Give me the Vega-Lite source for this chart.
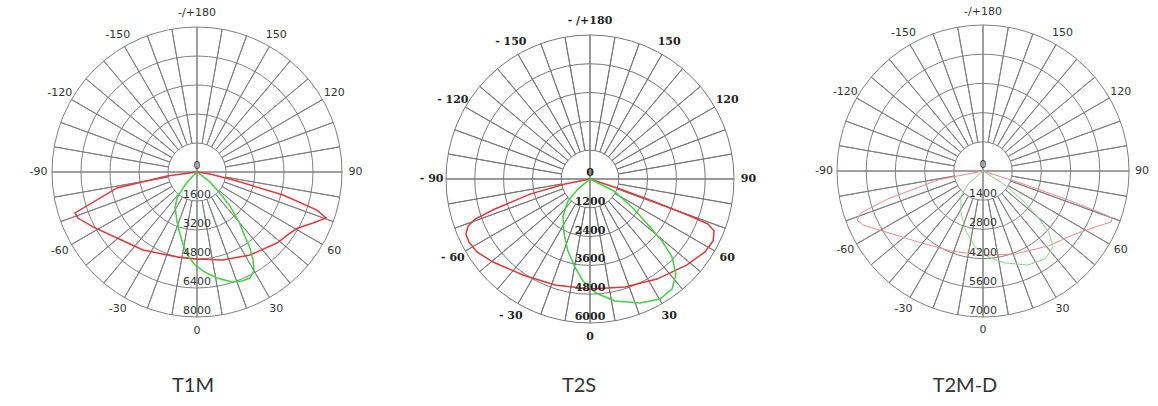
{
  "$schema": "https://vega.github.io/schema/vega-lite/v6.json",
  "padding": 0,
  "spacing": 0,
  "bounds": "flush",
  "background": "white",
  "config": {
    "view": {"stroke": null},
    "axis": {"disable": true},
    "legend": {"disable": true},
    "title": {"orient": "bottom", "offset": 16, "fontSize": 20, "font": "Lato", "fontWeight": "normal", "color": "#333333", "anchor": "middle"}
  },
  "resolve": {"scale": {"x": "independent", "y": "independent", "radius": "independent", "theta": "independent", "color": "independent"}},
  "datasets": {
    "spokes": [{"a":-170},{"a":-160},{"a":-150},{"a":-140},{"a":-130},{"a":-120},{"a":-110},{"a":-100},{"a":-80},{"a":-70},{"a":-60},{"a":-50},{"a":-40},{"a":-30},{"a":-20},{"a":-10},{"a":10},{"a":20},{"a":30},{"a":40},{"a":50},{"a":60},{"a":70},{"a":80},{"a":100},{"a":110},{"a":120},{"a":130},{"a":140},{"a":150},{"a":160},{"a":170}],
    "mainAxes": [{"a":0},{"a":90},{"a":180},{"a":-90}],
    "labelsSans": [{"a":180,"t":"-/+180"},{"a":-150,"t":"-150"},{"a":150,"t":"150"},{"a":-120,"t":"-120"},{"a":120,"t":"120"},{"a":-90,"t":"-90"},{"a":90,"t":"90"},{"a":-60,"t":"-60"},{"a":60,"t":"60"},{"a":-30,"t":"-30"},{"a":30,"t":"30"},{"a":0,"t":"0"}],
    "labelsSerif": [{"a":180,"t":"- /+180"},{"a":-150,"t":"- 150"},{"a":150,"t":"150"},{"a":-120,"t":"- 120"},{"a":120,"t":"120"},{"a":-90,"t":"- 90"},{"a":90,"t":"90"},{"a":-60,"t":"- 60"},{"a":60,"t":"60"},{"a":-30,"t":"- 30"},{"a":30,"t":"30"},{"a":0,"t":"0"}],
    "rings1": [{"r":0},{"r":1600},{"r":3200},{"r":4800},{"r":6400},{"r":8000}],
    "rings2": [{"r":0},{"r":1200},{"r":2400},{"r":3600},{"r":4800},{"r":6000}],
    "rings3": [{"r":0},{"r":1400},{"r":2800},{"r":4200},{"r":5600},{"r":7000}],
    "c1": [
      {"p":"C0-C180","h":0,"v":0},{"p":"C0-C180","h":-1650,"v":-220},{"p":"C0-C180","h":-4410,"v":-880},{"p":"C0-C180","h":-6730,"v":-2260},{"p":"C0-C180","h":-6570,"v":-2540},{"p":"C0-C180","h":-5740,"v":-3030},{"p":"C0-C180","h":-4410,"v":-3640},{"p":"C0-C180","h":-2980,"v":-4300},{"p":"C0-C180","h":-1100,"v":-4690},{"p":"C0-C180","h":0,"v":-4800},{"p":"C0-C180","h":1430,"v":-4860},{"p":"C0-C180","h":2920,"v":-4580},{"p":"C0-C180","h":4410,"v":-3920},{"p":"C0-C180","h":5130,"v":-3370},{"p":"C0-C180","h":5570,"v":-3090},{"p":"C0-C180","h":6400,"v":-2810},{"p":"C0-C180","h":7120,"v":-2540},{"p":"C0-C180","h":6620,"v":-2100},{"p":"C0-C180","h":4750,"v":-1270},{"p":"C0-C180","h":2210,"v":-500},{"p":"C0-C180","h":720,"v":-110},{"p":"C0-C180","h":0,"v":0},
      {"p":"C90-C270","h":0,"v":0},{"p":"C90-C270","h":-440,"v":-440},{"p":"C90-C270","h":-770,"v":-880},{"p":"C90-C270","h":-1100,"v":-1430},{"p":"C90-C270","h":-1210,"v":-1930},{"p":"C90-C270","h":-1100,"v":-2760},{"p":"C90-C270","h":-940,"v":-3420},{"p":"C90-C270","h":-720,"v":-4140},{"p":"C90-C270","h":-440,"v":-4690},{"p":"C90-C270","h":-110,"v":-5130},{"p":"C90-C270","h":440,"v":-5520},{"p":"C90-C270","h":1100,"v":-5850},{"p":"C90-C270","h":1930,"v":-6070},{"p":"C90-C270","h":2480,"v":-6010},{"p":"C90-C270","h":2920,"v":-5850},{"p":"C90-C270","h":3150,"v":-5410},{"p":"C90-C270","h":3090,"v":-4860},{"p":"C90-C270","h":2920,"v":-4190},{"p":"C90-C270","h":2590,"v":-3420},{"p":"C90-C270","h":2320,"v":-2760},{"p":"C90-C270","h":1820,"v":-1880},{"p":"C90-C270","h":1210,"v":-1100},{"p":"C90-C270","h":660,"v":-500},{"p":"C90-C270","h":0,"v":0}
    ],
    "c2": [
      {"p":"C0-C180","h":0,"v":0},{"p":"C0-C180","h":-1040,"v":-210},{"p":"C0-C180","h":-2500,"v":-630},{"p":"C0-C180","h":-3960,"v":-1250},{"p":"C0-C180","h":-4790,"v":-1670},{"p":"C0-C180","h":-5080,"v":-1960},{"p":"C0-C180","h":-5170,"v":-2290},{"p":"C0-C180","h":-5040,"v":-2630},{"p":"C0-C180","h":-4710,"v":-3040},{"p":"C0-C180","h":-4040,"v":-3460},{"p":"C0-C180","h":-2790,"v":-4000},{"p":"C0-C180","h":-1460,"v":-4420},{"p":"C0-C180","h":0,"v":-4580},{"p":"C0-C180","h":1460,"v":-4500},{"p":"C0-C180","h":2790,"v":-4170},{"p":"C0-C180","h":4040,"v":-3580},{"p":"C0-C180","h":4790,"v":-3040},{"p":"C0-C180","h":5130,"v":-2580},{"p":"C0-C180","h":5170,"v":-2170},{"p":"C0-C180","h":4920,"v":-1880},{"p":"C0-C180","h":4170,"v":-1540},{"p":"C0-C180","h":2710,"v":-960},{"p":"C0-C180","h":1250,"v":-420},{"p":"C0-C180","h":0,"v":0},
      {"p":"C90-C270","h":0,"v":0},{"p":"C90-C270","h":-500,"v":-420},{"p":"C90-C270","h":-920,"v":-920},{"p":"C90-C270","h":-1130,"v":-1580},{"p":"C90-C270","h":-1080,"v":-2290},{"p":"C90-C270","h":-920,"v":-3000},{"p":"C90-C270","h":-630,"v":-3670},{"p":"C90-C270","h":-290,"v":-4250},{"p":"C90-C270","h":250,"v":-4750},{"p":"C90-C270","h":1040,"v":-5080},{"p":"C90-C270","h":2080,"v":-5170},{"p":"C90-C270","h":2920,"v":-5000},{"p":"C90-C270","h":3420,"v":-4580},{"p":"C90-C270","h":3580,"v":-3960},{"p":"C90-C270","h":3420,"v":-3250},{"p":"C90-C270","h":3000,"v":-2580},{"p":"C90-C270","h":2500,"v":-2000},{"p":"C90-C270","h":1830,"v":-1250},{"p":"C90-C270","h":1000,"v":-500},{"p":"C90-C270","h":0,"v":0}
    ],
    "c3": [
      {"p":"C0-C180","h":0,"v":0},{"p":"C0-C180","h":-2160,"v":-430},{"p":"C0-C180","h":-4560,"v":-1340},{"p":"C0-C180","h":-5850,"v":-2010},{"p":"C0-C180","h":-6040,"v":-2350},{"p":"C0-C180","h":-5750,"v":-2590},{"p":"C0-C180","h":-4800,"v":-2880},{"p":"C0-C180","h":-3120,"v":-3400},{"p":"C0-C180","h":-1530,"v":-3840},{"p":"C0-C180","h":0,"v":-4030},{"p":"C0-C180","h":1530,"v":-3980},{"p":"C0-C180","h":3120,"v":-3600},{"p":"C0-C180","h":4410,"v":-3020},{"p":"C0-C180","h":5510,"v":-2640},{"p":"C0-C180","h":6140,"v":-2450},{"p":"C0-C180","h":6190,"v":-2250},{"p":"C0-C180","h":5660,"v":-2010},{"p":"C0-C180","h":4080,"v":-1390},{"p":"C0-C180","h":1920,"v":-620},{"p":"C0-C180","h":0,"v":0},
      {"p":"C90-C270","h":0,"v":0},{"p":"C90-C270","h":-670,"v":-580},{"p":"C90-C270","h":-1060,"v":-1200},{"p":"C90-C270","h":-1060,"v":-2010},{"p":"C90-C270","h":-820,"v":-2880},{"p":"C90-C270","h":-380,"v":-3640},{"p":"C90-C270","h":240,"v":-4120},{"p":"C90-C270","h":1060,"v":-4410},{"p":"C90-C270","h":2160,"v":-4510},{"p":"C90-C270","h":2970,"v":-4220},{"p":"C90-C270","h":3360,"v":-3640},{"p":"C90-C270","h":3170,"v":-2970},{"p":"C90-C270","h":2640,"v":-2210},{"p":"C90-C270","h":1920,"v":-1440},{"p":"C90-C270","h":1060,"v":-670},{"p":"C90-C270","h":0,"v":0}
    ]
  },
  "hconcat": [
    {
      "width": 386, "height": 360,
      "title": {"text": "T1M"},
      "layer": [
        {
          "data": {"name": "rings1"},
          "mark": {"type": "arc", "theta": 0, "theta2": 6.2832, "filled": false, "stroke": "#808080", "strokeWidth": 1},
          "encoding": {
            "x": {"datum": 0, "type": "quantitative", "scale": {"domain": [-10869, 10428], "nice": false, "zero": false}, "axis": null},
            "y": {"datum": 0, "type": "quantitative", "scale": {"domain": [-10372, 9490], "nice": false, "zero": false}, "axis": null},
            "radius": {"field": "r", "type": "quantitative", "stack": false, "scale": {"type": "linear", "domain": [0, 8000], "range": [0, 145], "zero": true, "nice": false}}
          }
        },
        {
          "data": {"name": "spokes"},
          "mark": {"type": "arc", "filled": false, "stroke": "#808080", "strokeWidth": 1},
          "encoding": {
            "x": {"datum": 0, "type": "quantitative"},
            "y": {"datum": 0, "type": "quantitative"},
            "theta": {"field": "a", "type": "quantitative", "stack": false, "scale": {"domain": [180, -180], "range": [0, 6.283185307179586], "zero": false, "nice": false}},
            "theta2": {"field": "a"},
            "radius": {"datum": 8000, "type": "quantitative", "stack": false},
            "radius2": {"datum": 1600}
          }
        },
        {
          "data": {"name": "mainAxes"},
          "mark": {"type": "arc", "filled": false, "stroke": "#808080", "strokeWidth": 1},
          "encoding": {
            "x": {"datum": 0, "type": "quantitative"},
            "y": {"datum": 0, "type": "quantitative"},
            "theta": {"field": "a", "type": "quantitative", "stack": false},
            "theta2": {"field": "a"},
            "radius": {"datum": 8000, "type": "quantitative", "stack": false},
            "radius2": {"datum": 0}
          }
        },
        {
          "data": {"name": "c1"},
          "mark": {"type": "line", "strokeWidth": 1.5},
          "encoding": {
            "x": {"field": "h", "type": "quantitative"},
            "y": {"field": "v", "type": "quantitative"},
            "color": {"field": "p", "type": "nominal", "scale": {"domain": ["C0-C180", "C90-C270"], "range": ["#e0393e", "#3ed43e"]}, "legend": null},
            "order": {"value": null}
          }
        },
        {
          "data": {"name": "labelsSans"},
          "mark": {"type": "text", "font": "DejaVu Sans", "fontSize": 11, "fill": "#333333", "align": "center", "baseline": "middle"},
          "encoding": {
            "x": {"datum": 0, "type": "quantitative"},
            "y": {"datum": 0, "type": "quantitative"},
            "theta": {"field": "a", "type": "quantitative", "stack": false},
            "radius": {"datum": 8750, "type": "quantitative", "stack": false},
            "text": {"field": "t"}
          }
        },
        {
          "data": {"name": "rings1"},
          "mark": {"type": "text", "font": "DejaVu Sans", "fontSize": 11, "fill": "#333333", "align": "center", "baseline": "middle", "dy": -6},
          "encoding": {
            "x": {"datum": 0, "type": "quantitative"},
            "y": {"datum": 0, "type": "quantitative"},
            "theta": {"datum": 0, "type": "quantitative", "stack": false},
            "radius": {"field": "r", "type": "quantitative", "stack": false},
            "text": {"field": "r", "type": "quantitative", "format": "d"}
          }
        }
      ]
    },
    {
      "width": 386, "height": 360,
      "title": {"text": "T2S"},
      "layer": [
        {
          "data": {"name": "rings2"},
          "mark": {"type": "arc", "theta": 0, "theta2": 6.2832, "filled": false, "stroke": "#777777", "strokeWidth": 1},
          "encoding": {
            "x": {"datum": 0, "type": "quantitative", "scale": {"domain": [-8500, 7583], "nice": false, "zero": false}, "axis": null},
            "y": {"datum": 0, "type": "quantitative", "scale": {"domain": [-7542, 7458], "nice": false, "zero": false}, "axis": null},
            "radius": {"field": "r", "type": "quantitative", "stack": false, "scale": {"type": "linear", "domain": [0, 6000], "range": [0, 144], "zero": true, "nice": false}}
          }
        },
        {
          "data": {"name": "spokes"},
          "mark": {"type": "arc", "filled": false, "stroke": "#777777", "strokeWidth": 1},
          "encoding": {
            "x": {"datum": 0, "type": "quantitative"},
            "y": {"datum": 0, "type": "quantitative"},
            "theta": {"field": "a", "type": "quantitative", "stack": false, "scale": {"domain": [180, -180], "range": [0, 6.283185307179586], "zero": false, "nice": false}},
            "theta2": {"field": "a"},
            "radius": {"datum": 6000, "type": "quantitative", "stack": false},
            "radius2": {"datum": 1200}
          }
        },
        {
          "data": {"name": "mainAxes"},
          "mark": {"type": "arc", "filled": false, "stroke": "#777777", "strokeWidth": 1},
          "encoding": {
            "x": {"datum": 0, "type": "quantitative"},
            "y": {"datum": 0, "type": "quantitative"},
            "theta": {"field": "a", "type": "quantitative", "stack": false},
            "theta2": {"field": "a"},
            "radius": {"datum": 6000, "type": "quantitative", "stack": false},
            "radius2": {"datum": 0}
          }
        },
        {
          "data": {"name": "c2"},
          "mark": {"type": "line", "strokeWidth": 1.5},
          "encoding": {
            "x": {"field": "h", "type": "quantitative"},
            "y": {"field": "v", "type": "quantitative"},
            "color": {"field": "p", "type": "nominal", "scale": {"domain": ["C0-C180", "C90-C270"], "range": ["#dc3a3a", "#42d042"]}, "legend": null},
            "order": {"value": null}
          }
        },
        {
          "data": {"name": "labelsSerif"},
          "mark": {"type": "text", "font": "DejaVu Serif", "fontWeight": "bold", "fontSize": 11, "fill": "#222222", "align": "center", "baseline": "middle"},
          "encoding": {
            "x": {"datum": 0, "type": "quantitative"},
            "y": {"datum": 0, "type": "quantitative"},
            "theta": {"field": "a", "type": "quantitative", "stack": false},
            "radius": {"datum": 6600, "type": "quantitative", "stack": false},
            "text": {"field": "t"}
          }
        },
        {
          "data": {"name": "rings2"},
          "mark": {"type": "text", "font": "DejaVu Serif", "fontWeight": "bold", "fontSize": 11, "fill": "#222222", "align": "center", "baseline": "middle", "dy": -6},
          "encoding": {
            "x": {"datum": 0, "type": "quantitative"},
            "y": {"datum": 0, "type": "quantitative"},
            "theta": {"datum": 0, "type": "quantitative", "stack": false},
            "radius": {"field": "r", "type": "quantitative", "stack": false},
            "text": {"field": "r", "type": "quantitative", "format": "d"}
          }
        }
      ]
    },
    {
      "width": 386, "height": 360,
      "title": {"text": "T2M-D"},
      "layer": [
        {
          "data": {"name": "rings3"},
          "mark": {"type": "arc", "theta": 0, "theta2": 6.2832, "filled": false, "stroke": "#808080", "strokeWidth": 1},
          "encoding": {
            "x": {"datum": 0, "type": "quantitative", "scale": {"domain": [-10116, 8390], "nice": false, "zero": false}, "axis": null},
            "y": {"datum": 0, "type": "quantitative", "scale": {"domain": [-9062, 8199], "nice": false, "zero": false}, "axis": null},
            "radius": {"field": "r", "type": "quantitative", "stack": false, "scale": {"type": "linear", "domain": [0, 7000], "range": [0, 146], "zero": true, "nice": false}}
          }
        },
        {
          "data": {"name": "spokes"},
          "mark": {"type": "arc", "filled": false, "stroke": "#808080", "strokeWidth": 1},
          "encoding": {
            "x": {"datum": 0, "type": "quantitative"},
            "y": {"datum": 0, "type": "quantitative"},
            "theta": {"field": "a", "type": "quantitative", "stack": false, "scale": {"domain": [180, -180], "range": [0, 6.283185307179586], "zero": false, "nice": false}},
            "theta2": {"field": "a"},
            "radius": {"datum": 7000, "type": "quantitative", "stack": false},
            "radius2": {"datum": 1400}
          }
        },
        {
          "data": {"name": "mainAxes"},
          "mark": {"type": "arc", "filled": false, "stroke": "#808080", "strokeWidth": 1},
          "encoding": {
            "x": {"datum": 0, "type": "quantitative"},
            "y": {"datum": 0, "type": "quantitative"},
            "theta": {"field": "a", "type": "quantitative", "stack": false},
            "theta2": {"field": "a"},
            "radius": {"datum": 7000, "type": "quantitative", "stack": false},
            "radius2": {"datum": 0}
          }
        },
        {
          "data": {"name": "c3"},
          "mark": {"type": "line", "strokeWidth": 1},
          "encoding": {
            "x": {"field": "h", "type": "quantitative"},
            "y": {"field": "v", "type": "quantitative"},
            "color": {"field": "p", "type": "nominal", "scale": {"domain": ["C0-C180", "C90-C270"], "range": ["#ec8c8c", "#86d686"]}, "legend": null},
            "order": {"value": null}
          }
        },
        {
          "data": {"name": "labelsSans"},
          "mark": {"type": "text", "font": "DejaVu Sans", "fontSize": 11, "fill": "#333333", "align": "center", "baseline": "middle"},
          "encoding": {
            "x": {"datum": 0, "type": "quantitative"},
            "y": {"datum": 0, "type": "quantitative"},
            "theta": {"field": "a", "type": "quantitative", "stack": false},
            "radius": {"datum": 7620, "type": "quantitative", "stack": false},
            "text": {"field": "t"}
          }
        },
        {
          "data": {"name": "rings3"},
          "mark": {"type": "text", "font": "DejaVu Sans", "fontSize": 11, "fill": "#333333", "align": "center", "baseline": "middle", "dy": -6},
          "encoding": {
            "x": {"datum": 0, "type": "quantitative"},
            "y": {"datum": 0, "type": "quantitative"},
            "theta": {"datum": 0, "type": "quantitative", "stack": false},
            "radius": {"field": "r", "type": "quantitative", "stack": false},
            "text": {"field": "r", "type": "quantitative", "format": "d"}
          }
        }
      ]
    }
  ]
}
